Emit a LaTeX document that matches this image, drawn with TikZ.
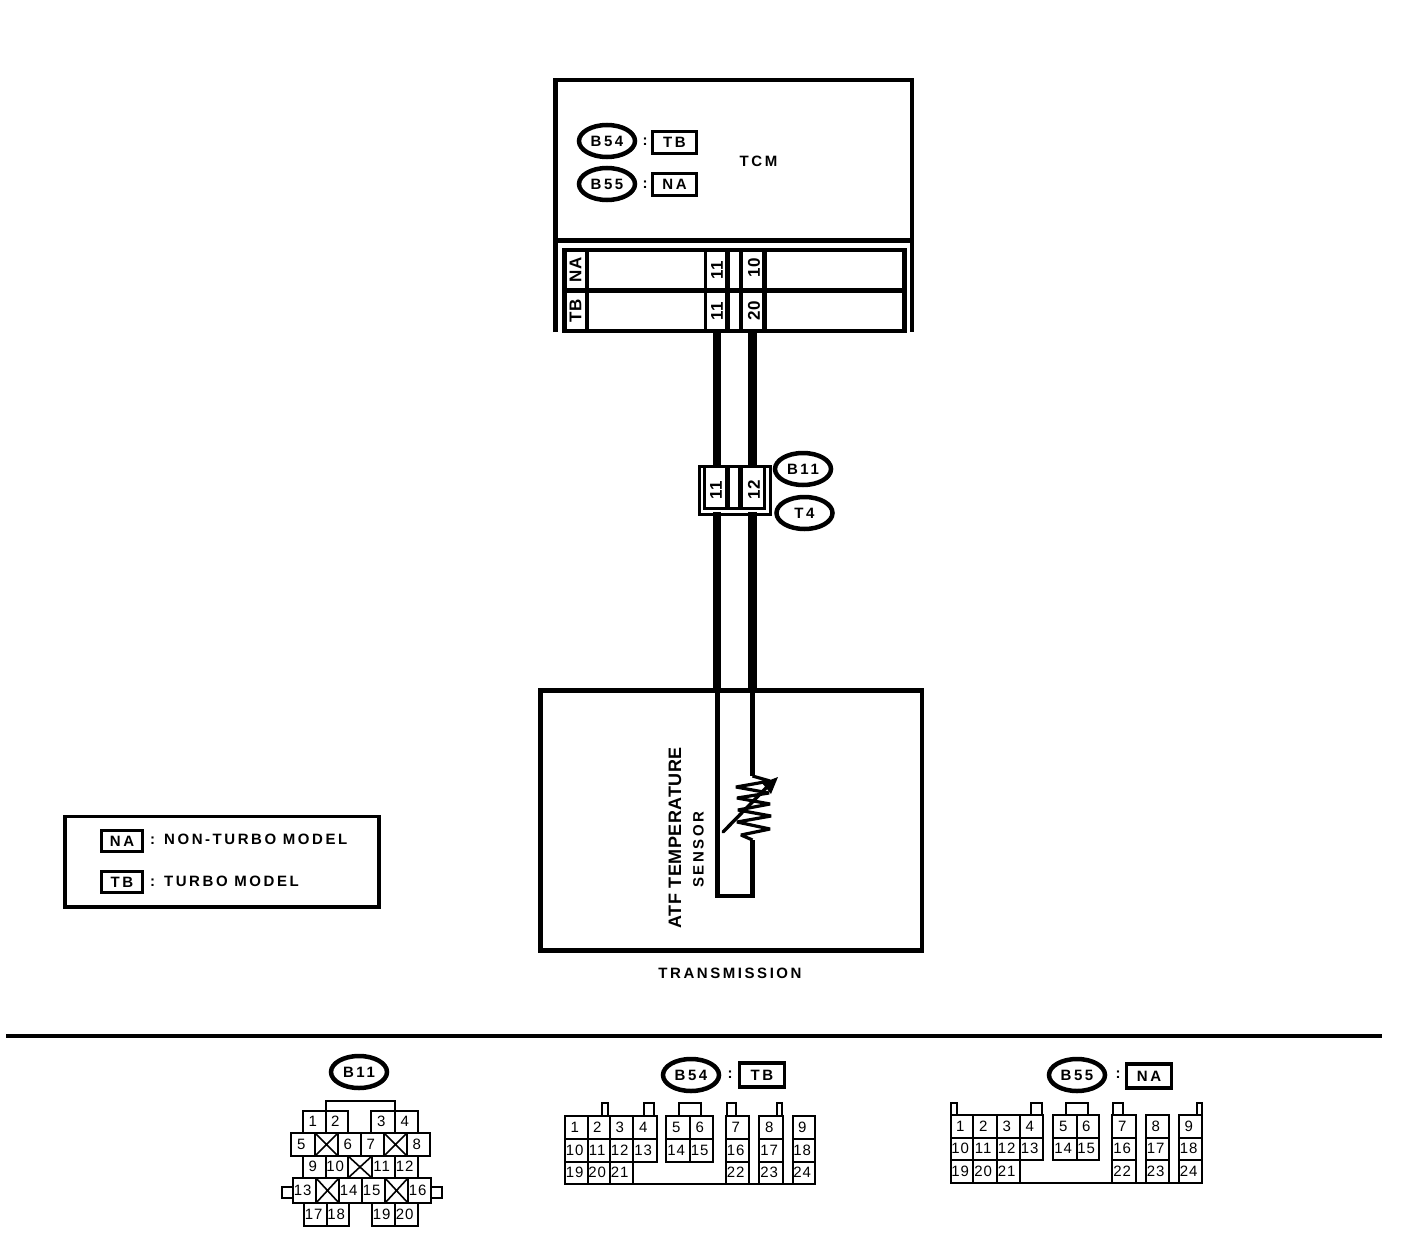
\documentclass[tikz,border=0pt]{standalone}
\usepackage{fontspec}
\setmainfont{Liberation Sans}
\newfontfamily\labfont[LetterSpace=17]{Liberation Sans}
\newfontfamily\tallfont[LetterSpace=3]{Liberation Sans}
\newfontfamily\pinfont[LetterSpace=6]{Liberation Sans}
\tikzset{
  thickbox/.style={draw=black,line width=4.2pt,fill=none},
  wire/.style={draw=black,line width=8.5pt},
  thinwire/.style={draw=black,line width=4.5pt},
  cellline/.style={draw=black,line width=1.6pt},
  tabline/.style={draw=black,line width=1.6pt},
  label/.style={inner sep=0pt,font=\labfont\bfseries\fontsize{15}{17}\selectfont,text=black},
  rlabel/.style={inner sep=0pt,rotate=90,font=\tallfont\bfseries\fontsize{17}{19}\selectfont,text=black},
  rlabelsmall/.style={label,rotate=90},
  pin/.style={inner sep=0pt,font=\pinfont\fontsize{15}{15}\selectfont,text=black},
  connoval/.style={ellipse,draw=black,line width=4.5pt,minimum width=56pt,minimum height=32pt,inner sep=0pt,font=\labfont\bfseries\fontsize{15}{17}\selectfont},
  tagbox/.style={rectangle,draw=black,line width=3.5pt,minimum width=44pt,minimum height=22pt,inner sep=0pt,font=\labfont\bfseries\fontsize{15}{17}\selectfont},
}
\usetikzlibrary{shapes.geometric}
% \pincell{name}{x1}{y1}{x2}{y2}{label}
\newcommand{\pincell}[6]{%
  \draw[cellline] (#2,#3) rectangle (#4,#5);
  \node[pin] (#1) at ({(#2+#4)/2-1.8},{(#3+#5)/2-0.5}) {#6};
}
\newcommand{\xcell}[4]{%
  \draw[cellline] (#1,#2) rectangle (#3,#4);
  \draw[cellline] (#1,#2) -- (#3,#4) (#1,#4) -- (#3,#2);
}
\begin{document}
\begin{tikzpicture}[x=1pt,y=-1pt]
\useasboundingbox (0,0) rectangle (1408,1244);
\fill[white] (0,0) rectangle (1408,1244);

% TCM block
\draw[thickbox] (555.5,332) -- (555.5,80) -- (912,80) -- (912,332);
\draw[thickbox] (555.5,240.5) -- (912,240.5);
\draw[thickbox] (564.5,250) rectangle (904.5,331);
\draw[thickbox] (564.5,290.5) -- (904.5,290.5);
\draw[thickbox] (587,250) -- (587,331);
\draw[draw=black,line width=3pt] (705.5,250) -- (705.5,331);
\draw[thickbox] (727.5,250) -- (727.5,331);
\draw[thickbox] (741,250) -- (741,331);
\draw[thickbox] (764.5,250) -- (764.5,331);
\node[rlabel] (naTag) at (575.5,270) {NA};
\node[rlabel] (tbTag) at (575.5,311) {TB};
\node[rlabel] (na11) at (717,270) {11};
\node[rlabel] (na10) at (754,268) {10};
\node[rlabel] (tb11) at (717,311) {11};
\node[rlabel] (tb20) at (754,311) {20};
\node[connoval] (ovB54) at (607,141) {B54};
\node[connoval] (ovB55) at (607,184) {B55};
\node[label] (colA) at (645,142) {:};
\node[label] (colB) at (645,185) {:};
\node[tagbox] (tagTB) at (674.5,142.5) {TB};
\node[tagbox] (tagNA) at (674.5,184.5) {NA};
\node[label] (tcm) at (758.5,161) {TCM};

% wires
\coordinate (w1a) at (717,332);
\coordinate (w1b) at (717,466);
\coordinate (w1c) at (717,512);
\coordinate (w1d) at (717,690);
\coordinate (w2a) at (752.5,332);
\coordinate (w2b) at (752.5,466);
\coordinate (w2c) at (752.5,512);
\coordinate (w2d) at (752.5,690);
\draw[wire] (w1a) -- (w1b);
\draw[wire] (w2a) -- (w2b);
\draw[wire] (w1c) -- (w1d);
\draw[wire] (w2c) -- (w2d);

% joint connector
\draw[draw=black,line width=3pt] (699,514) -- (699,466) -- (770,466) -- (770,514) -- cycle;
\draw[draw=black,line width=3.5pt] (704.5,467) -- (704.5,508.5) -- (764.5,508.5) -- (764.5,467);
\fill[black] (725,467) rectangle (730,508);
\fill[black] (738,467) rectangle (743,508);
\node[rlabel] (j11) at (716,490) {11};
\node[rlabel] (j12) at (754,490) {12};
\node[connoval] (ovB11) at (803,469) {B11};
\node[connoval] (ovT4) at (804.5,513) {T4};

% sensor
\draw[thickbox] (540.5,690.5) rectangle (922,950.5);
\coordinate (s1) at (752.5,690);
\coordinate (s2) at (752.5,776);
\coordinate (s3) at (752.5,840);
\coordinate (s4) at (717.5,690);
\draw[thinwire] (s4) -- (717.5,896) -- (752.5,896) -- (s3);
\draw[thinwire] (s1) -- (s2);
\draw[black,line width=3.2pt,line join=bevel]
  (s2) -- (770,781) -- (736,787) -- (769,793) -- (737,798) -- (770,804)
  -- (738,810) -- (771,816) -- (737,822) -- (770,829) -- (741,835) -- (s3);
\draw[black,line width=3.4pt,line cap=round] (723,832) -- (768,786);
\fill[black] (778,777) -- (762,783) -- (771,794) -- cycle;
\node[rlabel] (atf) at (675,838) {\fontsize{18}{20}\selectfont ATF TEMPERATURE};
\node[rlabelsmall] (sens) at (698.5,849.5) {SENSOR};
\node[label] (trans) at (730,973) {TRANSMISSION};

% legend
\draw[draw=black,line width=3.5pt] (65,816.5) rectangle (379,907);
\node[tagbox,line width=3pt,minimum width=41pt,minimum height=21pt] (lgNA) at (122,841) {NA};
\node[tagbox,line width=3pt,minimum width=41pt,minimum height=21pt] (lgTB) at (122,882) {TB};
\node[label,anchor=west] (lgNAt) at (150,839.5) {: NON-TURBO MODEL};
\node[label,anchor=west] (lgTBt) at (150,881.5) {: TURBO MODEL};

% divider
\draw[draw=black,line width=4.5pt] (6,1036) -- (1382,1036);

% B11 connector
\node[connoval] (ovB11b) at (359,1072) {B11};
\draw[draw=black,line width=2pt] (326,1111) -- (326,1101) -- (395,1101) -- (395,1111);
\pincell{a1}{303}{1111}{326}{1133}{1}
\pincell{a2}{326}{1111}{348}{1133}{2}
\pincell{a3}{371}{1111}{395}{1133}{3}
\pincell{a4}{395}{1111}{418}{1133}{4}
\pincell{a5}{291}{1133}{315}{1156}{5}
\xcell{315}{1133}{338}{1156}
\pincell{a6}{338}{1133}{361}{1156}{6}
\pincell{a7}{361}{1133}{384}{1156}{7}
\xcell{384}{1133}{407}{1156}
\pincell{a8}{407}{1133}{430}{1156}{8}
\pincell{a9}{303}{1156}{326}{1178}{9}
\pincell{a10}{326}{1156}{348}{1178}{10}
\xcell{348}{1156}{372}{1178}
\pincell{a11}{372}{1156}{395}{1178}{11}
\pincell{a12}{395}{1156}{418}{1178}{12}
\pincell{a13}{293}{1178}{316}{1203}{13}
\xcell{316}{1178}{339}{1203}
\pincell{a14}{339}{1178}{362}{1203}{14}
\pincell{a15}{362}{1178}{385}{1203}{15}
\xcell{385}{1178}{408}{1203}
\pincell{a16}{408}{1178}{431}{1203}{16}
\draw[tabline] (293,1187) -- (282,1187) -- (282,1198) -- (293,1198);
\draw[tabline] (431,1187) -- (442,1187) -- (442,1198) -- (431,1198);
\pincell{a17}{304}{1203}{327}{1226}{17}
\pincell{a18}{327}{1203}{349}{1226}{18}
\pincell{a19}{372}{1203}{395}{1226}{19}
\pincell{a20}{395}{1203}{418}{1226}{20}

% B54 connector
\node[connoval] (ovB54b) at (691,1075) {B54};
\node[label] (colC) at (730,1075) {:};
\node[tagbox,minimum width=45pt,minimum height=24pt] (tagTBb) at (762,1075) {TB};
\draw[tabline] (602,1116) -- (602,1103) -- (608,1103) -- (608,1116);
\draw[tabline] (644,1116) -- (644,1103) -- (654,1103) -- (654,1116);
\draw[tabline] (679,1116) -- (679,1103) -- (701,1103) -- (701,1116);
\draw[tabline] (727,1116) -- (727,1103) -- (736,1103) -- (736,1116);
\draw[tabline] (777,1116) -- (777,1103) -- (782,1103) -- (782,1116);
\pincell{b1}{565}{1116}{588}{1139}{1}
\pincell{b2}{588}{1116}{610}{1139}{2}
\pincell{b3}{610}{1116}{633}{1139}{3}
\pincell{b4}{633}{1116}{657}{1139}{4}
\pincell{b5}{666}{1116}{690}{1139}{5}
\pincell{b6}{690}{1116}{713}{1139}{6}
\pincell{b7}{726}{1116}{749}{1139}{7}
\pincell{b8}{759}{1116}{783}{1139}{8}
\pincell{b9}{793}{1116}{815}{1139}{9}
\pincell{b10}{565}{1139}{588}{1162}{10}
\pincell{b11}{588}{1139}{610}{1162}{11}
\pincell{b12}{610}{1139}{633}{1162}{12}
\pincell{b13}{633}{1139}{657}{1162}{13}
\pincell{b14}{666}{1139}{690}{1162}{14}
\pincell{b15}{690}{1139}{713}{1162}{15}
\pincell{b16}{726}{1139}{749}{1162}{16}
\pincell{b17}{759}{1139}{783}{1162}{17}
\pincell{b18}{793}{1139}{815}{1162}{18}
\pincell{b19}{565}{1162}{588}{1184}{19}
\pincell{b20}{588}{1162}{610}{1184}{20}
\pincell{b21}{610}{1162}{633}{1184}{21}
\pincell{b22}{726}{1162}{749}{1184}{22}
\pincell{b23}{759}{1162}{783}{1184}{23}
\pincell{b24}{793}{1162}{815}{1184}{24}
\draw[cellline] (565,1184) -- (815,1184);

% B55 connector
\node[connoval] (ovB55b) at (1077,1075) {B55};
\node[label] (colD) at (1118,1075) {:};
\node[tagbox,minimum width=45pt,minimum height=24pt] (tagNAb) at (1149,1076) {NA};
\draw[tabline] (951,1115) -- (951,1103) -- (957,1103) -- (957,1115);
\draw[tabline] (1031,1115) -- (1031,1103) -- (1042,1103) -- (1042,1115);
\draw[tabline] (1066,1115) -- (1066,1103) -- (1088,1103) -- (1088,1115);
\draw[tabline] (1113,1115) -- (1113,1103) -- (1123,1103) -- (1123,1115);
\draw[tabline] (1197,1115) -- (1197,1103) -- (1202,1103) -- (1202,1115);
\pincell{c1}{951}{1115}{973}{1138}{1}
\pincell{c2}{973}{1115}{997}{1138}{2}
\pincell{c3}{997}{1115}{1020}{1138}{3}
\pincell{c4}{1020}{1115}{1043}{1138}{4}
\pincell{c5}{1053}{1115}{1077}{1138}{5}
\pincell{c6}{1077}{1115}{1099}{1138}{6}
\pincell{c7}{1112}{1115}{1136}{1138}{7}
\pincell{c8}{1146}{1115}{1169}{1138}{8}
\pincell{c9}{1179}{1115}{1202}{1138}{9}
\pincell{c10}{951}{1138}{973}{1160}{10}
\pincell{c11}{973}{1138}{997}{1160}{11}
\pincell{c12}{997}{1138}{1020}{1160}{12}
\pincell{c13}{1020}{1138}{1043}{1160}{13}
\pincell{c14}{1053}{1138}{1077}{1160}{14}
\pincell{c15}{1077}{1138}{1099}{1160}{15}
\pincell{c16}{1112}{1138}{1136}{1160}{16}
\pincell{c17}{1146}{1138}{1169}{1160}{17}
\pincell{c18}{1179}{1138}{1202}{1160}{18}
\pincell{c19}{951}{1160}{973}{1183}{19}
\pincell{c20}{973}{1160}{997}{1183}{20}
\pincell{c21}{997}{1160}{1020}{1183}{21}
\pincell{c22}{1112}{1160}{1136}{1183}{22}
\pincell{c23}{1146}{1160}{1169}{1183}{23}
\pincell{c24}{1179}{1160}{1202}{1183}{24}
\draw[draw=black,line width=2.2pt] (951,1183) -- (1202,1183);
\end{tikzpicture}
\end{document}
